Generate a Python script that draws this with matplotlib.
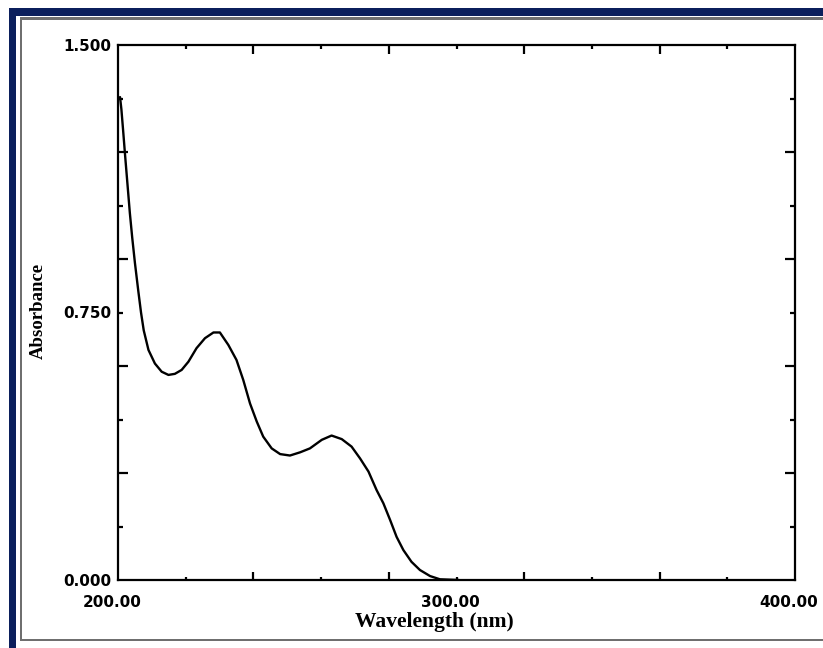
import matplotlib
matplotlib.use("Agg")
import matplotlib.pyplot as plt
from matplotlib.patches import Rectangle
import matplotlib.transforms as mtransforms

# ---- data ----
wavelength = [200.6, 201.0, 201.5, 202.1, 202.7, 203.5, 204.2, 205.0, 206.0, 206.8,
              207.6, 209.0, 210.9, 212.9, 214.9, 216.8, 218.8, 220.8, 223.2, 225.7,
              228.2, 230.1, 232.6, 235.0, 237.0, 239.0, 241.0, 242.9, 245.4, 247.9,
              250.8, 253.8, 256.7, 260.2, 263.1, 266.1, 269.0, 271.5, 274.0, 276.4,
              278.4, 280.4, 282.3, 284.3, 286.7, 289.2, 292.2, 295.1, 300.7]
absorbance = [1.354, 1.320, 1.262, 1.190, 1.121, 1.029, 0.960, 0.889, 0.810, 0.750,
              0.700, 0.645, 0.607, 0.584, 0.575, 0.578, 0.589, 0.612, 0.650, 0.678,
              0.694, 0.694, 0.659, 0.617, 0.561, 0.495, 0.444, 0.402, 0.369, 0.353,
              0.349, 0.358, 0.369, 0.393, 0.405, 0.395, 0.374, 0.341, 0.304, 0.252,
              0.215, 0.168, 0.121, 0.084, 0.051, 0.028, 0.011, 0.002, 0.000]

x_ticks = [200, 220, 240, 260, 280, 300, 320, 340, 360, 380, 400]
x_long = [240, 280, 320, 360]
x_labels = {200: "200.00", 300: "300.00", 400: "400.00"}
y_ticks = [0.0, 0.15, 0.3, 0.45, 0.6, 0.75, 0.9, 1.05, 1.2, 1.35, 1.5]
y_long = [0.3, 0.6, 0.9, 1.2]
y_labels = {0.0: "0.000", 0.75: "0.750", 1.5: "1.500"}

W, H = 823, 648
fig = plt.figure(figsize=(W / 100, H / 100), dpi=100)
fig.patch.set_facecolor("white")

def px_rect(x0, y0, x1, y1, color):
    fig.add_artist(Rectangle((x0 / W, 1 - y1 / H), (x1 - x0) / W, (y1 - y0) / H,
                             transform=fig.transFigure, facecolor=color,
                             edgecolor="none", zorder=0))

navy = "#0b1f5c"
px_rect(9, 8, W, 16, navy)      # top band
px_rect(9, 8, 16, H, navy)      # left band
grey = "#6f6f6f"
px_rect(20, 17.5, W, 19.5, grey)
px_rect(20, 17.5, 22, 641, grey)
px_rect(20, 639, W, 641, grey)

ax = fig.add_axes([118 / W, 1 - 580 / H, (795 - 118) / W, (580 - 45) / H])
ax.plot(wavelength, absorbance, color="black", lw=1.7,
        solid_joinstyle="round", solid_capstyle="round")
ax.set_xlim(200, 400)
ax.set_ylim(0, 1.5)

for s in ax.spines.values():
    s.set_linewidth(1.6)

tick_font = dict(family="DejaVu Sans", weight="bold", size=11)

ax.set_xticks(x_ticks)
ax.set_xticklabels([x_labels.get(v, "") for v in x_ticks], **tick_font)
ax.set_yticks(y_ticks)
ax.set_yticklabels([y_labels.get(v, "") for v in y_ticks], **tick_font)
ax.tick_params(axis="both", direction="in", width=1.6, top=True, right=True,
               colors="black")
ax.tick_params(axis="x", pad=11)
ax.tick_params(axis="y", pad=5)

for v, t in zip(x_ticks, ax.xaxis.get_major_ticks()):
    if v in (200, 400):
        L1 = L2 = 0
    elif v in x_long:
        L1, L2 = 5.5, 6.5
    else:
        L1, L2 = 2.5, 3.0
    t.tick1line.set_markersize(L1)
    t.tick2line.set_markersize(L2)

for v, t in zip(y_ticks, ax.yaxis.get_major_ticks()):
    if v in (0.0, 1.5):
        L = 0
    elif any(abs(v - q) < 1e-9 for q in y_long):
        L = 7.5
    else:
        L = 3.5
    t.tick1line.set_markersize(L)
    t.tick2line.set_markersize(L)

# shift x tick labels slightly left as in reference
offset = mtransforms.ScaledTranslation(-6 / 100, 0, fig.dpi_scale_trans)
for lab in ax.get_xticklabels():
    lab.set_transform(lab.get_transform() + offset)

label_font = dict(family="Liberation Serif", weight="bold", color="black")
ax.set_xlabel("Wavelength (nm)", fontsize=15.5, **label_font)
ax.xaxis.set_label_coords((434 - 118) / 677, (580 - 622) / 535)
ax.xaxis.label.set_va("center")
ax.set_ylabel("Absorbance", fontsize=13.5, **label_font)
ax.yaxis.set_label_coords((38.5 - 118) / 677, (580 - 311) / 535)
ax.yaxis.label.set_va("center")

fig.savefig("out.png", dpi=100, facecolor="white")
